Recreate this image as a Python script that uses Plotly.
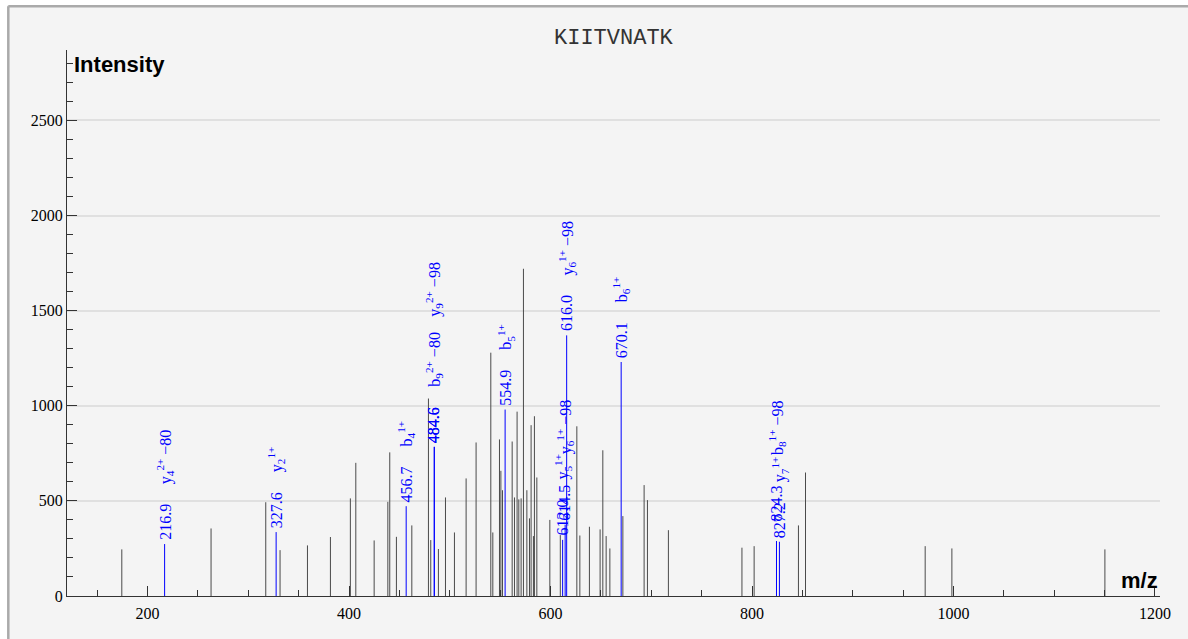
import plotly.graph_objects as go

peptide = "KIITVNATK"

# unmatched peaks (m/z, intensity)
peak_mz = [174.4, 263.0, 317.3, 331.5, 358.7, 381.5, 401.3, 406.7, 424.9, 438.5,
           440.4, 447.0, 462.3, 478.8, 481.1, 488.7, 495.7, 504.6, 516.2, 526.1,
           540.7, 542.7, 549.3, 550.7, 552.3, 561.9, 564.2, 566.8, 568.5, 570.8,
           573.1, 576.5, 579.1, 580.7, 583.0, 584.0, 586.4, 599.3, 609.7, 626.1,
           629.1, 638.6, 649.2, 651.9, 655.2, 658.9, 671.8, 692.9, 696.2, 717.0,
           790.0, 802.1, 846.1, 853.1, 971.9, 998.4, 1150.3]
peak_int = [245, 355, 493, 241, 266, 310, 513, 700, 292, 495,
            755, 311, 371, 1038, 294, 247, 518, 334, 618, 807,
            1279, 334, 823, 658, 556, 812, 518, 969, 508, 513,
            1720, 556, 408, 898, 315, 945, 623, 400, 320, 892,
            318, 364, 350, 766, 315, 250, 420, 583, 504, 346,
            254, 262, 371, 649, 262, 250, 245]

# matched fragment peaks
match_mz = [216.9, 327.6, 456.7, 484.6, 484.6, 554.9, 612.0, 614.5, 616.0, 670.1, 824.3, 827.2]
match_int = [273, 336, 472, 784, 784, 980, 295, 375, 1370, 1230, 289, 285]
match_label = ["216.9", "327.6", "456.7", "484.6", "484.6", "554.9", "612.0", "614.5",
               "616.0", "670.1", "824.3", "827.2"]
match_ion = ["y<sub>4</sub><sup>2+</sup> −80", "y<sub>2</sub><sup>1+</sup>",
             "b<sub>4</sub><sup>1+</sup>", "b<sub>9</sub><sup>2+</sup> −80",
             "y<sub>9</sub><sup>2+</sup> −98", "b<sub>5</sub><sup>1+</sup>",
             "y<sub>5</sub><sup>1+</sup>", "y<sub>6</sub><sup>1+</sup> −98",
             "y<sub>6</sub><sup>1+</sup> −98", "b<sub>6</sub><sup>1+</sup>",
             "b<sub>8</sub><sup>1+</sup> −98", "y<sub>7</sub><sup>1+</sup>"]

# label collisions: (number lift, ion lift) in px
lifts = {4: (0, 70), 7: (0, 10), 10: (16, 26)}

W, H = 1188, 639
ML, MR, MT, MB = 67, 28, 50, 43
PW, PH = W - ML - MR, H - MT - MB


def stems(xs, ys):
    sx, sy = [], []
    for x, y in zip(xs, ys):
        sx += [x, x, None]
        sy += [0, y, None]
    return sx, sy


def px(v):
    # page x pixel -> paper x
    return (v - ML) / PW


def py(v):
    # page y pixel -> paper y
    return (H - MB - v) / PH


fig = go.Figure()

sx, sy = stems(peak_mz, peak_int)
fig.add_trace(go.Scatter(x=sx, y=sy, mode="lines",
                         line=dict(color="#4a4a4a", width=1), hoverinfo="skip"))
sx, sy = stems(match_mz, match_int)
fig.add_trace(go.Scatter(x=sx, y=sy, mode="lines",
                         line=dict(color="#0000ff", width=1), hoverinfo="skip"))

serif = "Liberation Serif"
annotations = []
for i, (mz, inten, lab, ion) in enumerate(zip(match_mz, match_int, match_label, match_ion)):
    nl, il = lifts.get(i, (0, 0))
    annotations.append(dict(x=mz, y=inten, xref="x", yref="y", text=lab, textangle=-90,
                            showarrow=False, xanchor="center", yanchor="bottom",
                            yshift=3 + nl, borderpad=0,
                            font=dict(family=serif, size=16, color="#0000ff")))
    annotations.append(dict(x=mz, y=inten, xref="x", yref="y", text=ion, textangle=-90,
                            showarrow=False, xanchor="center", yanchor="bottom",
                            yshift=59 + il, borderpad=0,
                            font=dict(family=serif, size=16, color="#0000ff")))

annotations += [
    dict(x=0.5, y=1, xref="paper", yref="paper", text=peptide, showarrow=False,
         xanchor="center", yanchor="middle", yshift=12,
         font=dict(family="Liberation Mono", size=22, color="#333333")),
    dict(x=0, y=1, xref="paper", yref="paper", text="<b>Intensity</b>", showarrow=False,
         xanchor="left", yanchor="middle", xshift=5, yshift=-14,
         font=dict(family="Liberation Sans", size=22, color="#000000")),
    dict(x=1, y=0, xref="paper", yref="paper", text="<b>m/z</b>", showarrow=False,
         xanchor="right", yanchor="bottom", yshift=1,
         font=dict(family="Liberation Sans", size=22, color="#000000")),
]

# white margin strips and the top/left edge of the viewer frame
shapes = [
    dict(type="rect", xref="paper", yref="paper", layer="below",
         x0=px(-5), x1=px(7.1), y0=py(H + 5), y1=py(-5),
         line=dict(width=0), fillcolor="#ffffff"),
    dict(type="rect", xref="paper", yref="paper", layer="below",
         x0=px(-5), x1=px(W + 5), y0=py(5.1), y1=py(-5),
         line=dict(width=0), fillcolor="#ffffff"),
    dict(type="line", xref="paper", yref="paper", layer="below",
         x0=px(8.3), x1=px(W + 5), y0=py(6.3), y1=py(6.3),
         line=dict(color="#aaaaaa", width=2.5)),
    dict(type="line", xref="paper", yref="paper", layer="below",
         x0=px(8.3), x1=px(8.3), y0=py(H + 5), y1=py(6.3),
         line=dict(color="#aaaaaa", width=2.5)),
]

fig.update_layout(
    template="none",
    width=W, height=H,
    margin=dict(l=ML, r=MR, t=MT, b=MB, pad=0),
    paper_bgcolor="#f4f4f4",
    plot_bgcolor="rgba(0,0,0,0)",
    showlegend=False,
    annotations=annotations,
    shapes=shapes,
)

axis_common = dict(showline=True, linecolor="#333333", linewidth=1.3,
                   ticks="inside", tickcolor="#333333", tickwidth=1.3, ticklen=10,
                   tickfont=dict(family=serif, size=16, color="#000000"),
                   zeroline=False, mirror=False)

fig.update_xaxes(range=[120, 1205], dtick=200, tick0=0, showgrid=False,
                 ticklabelstandoff=3,
                 minor=dict(ticks="inside", dtick=50, ticklen=6, tickcolor="#333333",
                            tickwidth=1.3, showgrid=False),
                 **axis_common)
fig.update_yaxes(range=[0, 2870], dtick=500, tick0=0, showgrid=True,
                 gridcolor="#e0e0e0", gridwidth=1.5,
                 minor=dict(ticks="inside", dtick=100, ticklen=6, tickcolor="#333333",
                            tickwidth=1.3, showgrid=False),
                 **axis_common)

fig.write_html("out.html", config=dict(displayModeBar=False),
               post_script="document.body.style.margin='0';document.body.style.overflow='hidden';")
